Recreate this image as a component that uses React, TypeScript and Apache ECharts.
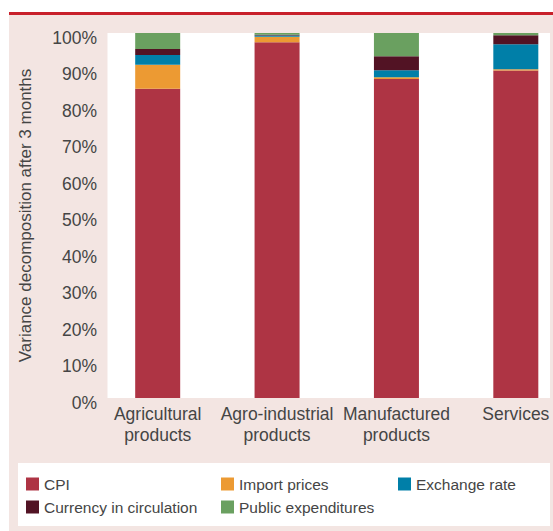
import React, { useEffect, useRef } from "react";
import * as echarts from "echarts";

const categories = ["Agricultural\nproducts", "Agro-industrial\nproducts", "Manufactured\nproducts", "Services"];
const cpi = [84.7, 97.5, 87.4, 89.7];
const importPrices = [6.6, 1.5, 0.5, 0.4];
const exchangeRate = [2.7, 0.3, 1.9, 6.8];
const currency = [1.6, 0.2, 3.8, 2.5];
const publicExp = [4.4, 0.5, 6.4, 0.6];
const yTicks = [0, 10, 20, 30, 40, 50, 60, 70, 80, 90, 100];

const FONT = "'Liberation Sans', Arial, sans-serif";
const TXT = "#454545";

export default function App() {
  const ref = useRef<HTMLDivElement>(null);
  useEffect(() => {
    const chart = echarts.init(ref.current!, null, { renderer: "svg" });
    const mk = (name: string, data: number[], color: string) => ({
      name,
      type: "bar",
      stack: "t",
      data,
      barWidth: 45,
      itemStyle: { color },
      z: 5,
    });
    const legendBase = {
      orient: "vertical",
      itemWidth: 13,
      itemHeight: 13,
      itemGap: 5,
      padding: 0,
      icon: "rect",
      top: 475,
      textStyle: { fontFamily: FONT, fontSize: 15.5, color: TXT, lineHeight: 18 },
    };
    chart.setOption({
      animation: false,
      backgroundColor: "transparent",
      graphic: [
        { type: "rect", z: -10, shape: { x: 9, y: 15, width: 544, height: 516 }, style: { fill: "#f3e5e2" } },
        { type: "rect", z: -10, shape: { x: 9, y: 12, width: 544, height: 3 }, style: { fill: "#c8202b" } },
        { type: "rect", z: -9, shape: { x: 107.5, y: 33, width: 442.5, height: 365 }, style: { fill: "#ffffff" } },
        { type: "rect", z: -9, shape: { x: 18, y: 463, width: 532, height: 63 }, style: { fill: "#ffffff" } },
      ],
      grid: { left: 98, right: 24.5, top: 33, bottom: 133, containLabel: false },
      legend: [
        { ...legendBase, left: 26, data: ["CPI", "Currency in circulation"] },
        { ...legendBase, left: 221, data: ["Import prices", "Public expenditures"] },
        { ...legendBase, left: 398, data: ["Exchange rate"] },
      ],
      xAxis: {
        type: "category",
        data: categories,
        axisLine: { show: false },
        axisTick: { show: false },
        axisLabel: { fontFamily: FONT, fontSize: 17.5, lineHeight: 21, color: TXT, margin: 5, interval: 0 },
      },
      yAxis: {
        type: "value",
        min: 0,
        max: 100,
        interval: 10,
        splitLine: { show: false },
        axisLine: { show: false },
        axisTick: { show: false },
        axisLabel: {
          fontFamily: FONT,
          fontSize: 17.5,
          color: TXT,
          margin: 1,
          verticalAlign: "top",
          lineHeight: 9,
          formatter: (v: number) => (yTicks.includes(v) ? v + "%" : ""),
        },
        name: "Variance decomposition after 3 months",
        nameLocation: "middle",
        nameGap: 64,
        nameTextStyle: { fontFamily: FONT, fontSize: 17, color: TXT },
      },
      series: [
        mk("CPI", cpi, "#ae3444"),
        mk("Import prices", importPrices, "#ec9a33"),
        mk("Exchange rate", exchangeRate, "#007fa8"),
        mk("Currency in circulation", currency, "#521324"),
        mk("Public expenditures", publicExp, "#6aa060"),
      ],
    });
    return () => chart.dispose();
  }, []);
  return (
    <div style={{ position: "absolute", left: 0, top: 0, width: 553, height: 531, overflow: "hidden" }}>
      <div ref={ref} style={{ position: "absolute", left: 0, top: 0, width: 600, height: 531 }} />
    </div>
  );
}
